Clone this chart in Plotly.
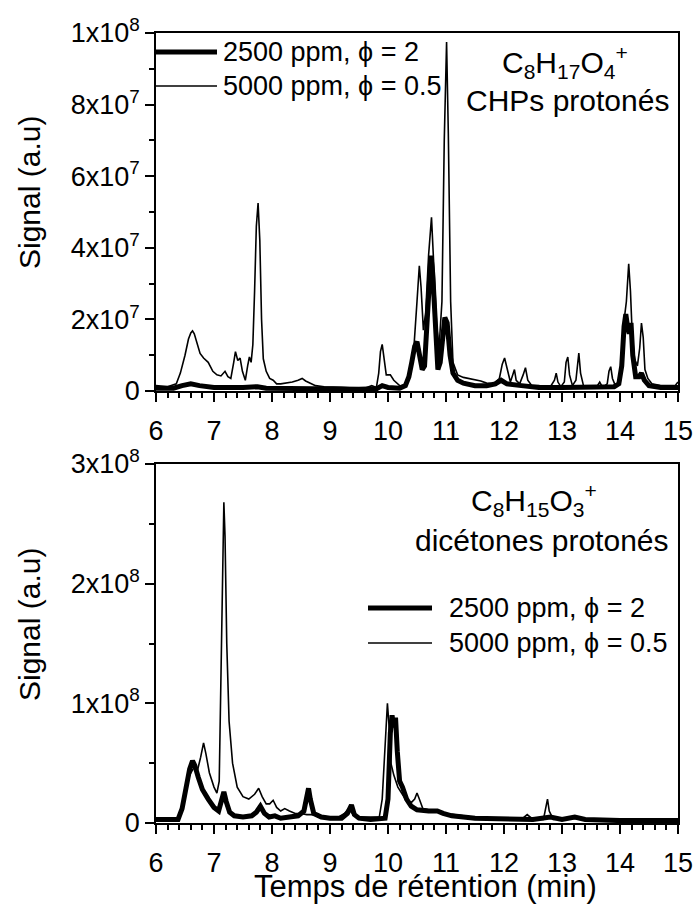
import numpy as np
import plotly.graph_objects as go

# top panel: C8H17O4+ (signal in units of 1e7)
top_t_rich = [6.0, 6.3, 6.45, 6.6, 6.75, 7.0, 7.5, 7.75, 7.9, 8.5, 9.0, 9.5, 9.8, 9.9, 10.0, 10.2,
              10.3, 10.36, 10.41, 10.46, 10.50, 10.54, 10.59, 10.63, 10.67, 10.71, 10.74, 10.77,
              10.81, 10.86, 10.90, 10.94, 10.98, 11.02, 11.07, 11.12, 11.2, 11.3, 11.5, 11.7,
              11.85, 11.95, 12.05, 12.3, 12.6, 13.0, 13.5, 13.9, 13.98, 14.03, 14.07, 14.10,
              14.13, 14.16, 14.19, 14.22, 14.27, 14.33, 14.37, 14.42, 14.5, 14.7, 15.0]
top_s_rich = [0.08, 0.08, 0.15, 0.2, 0.15, 0.1, 0.1, 0.12, 0.08, 0.06, 0.05, 0.05, 0.06, 0.15, 0.1, 0.08,
              0.15, 0.4, 0.8, 1.25, 1.38, 1.1, 0.6, 0.7, 2.0, 3.4, 3.78, 3.3,
              1.8, 0.6, 0.8, 1.6, 2.05, 1.9, 1.0, 0.5, 0.3, 0.22, 0.15, 0.15,
              0.2, 0.3, 0.2, 0.15, 0.1, 0.1, 0.1, 0.12, 0.2, 0.7, 1.8, 2.15,
              1.8, 1.6, 1.9, 1.0, 0.4, 0.4, 0.5, 0.3, 0.15, 0.1, 0.1]

top_t_lean = [6.0, 6.2, 6.35, 6.42, 6.5, 6.56, 6.6, 6.63, 6.66, 6.71, 6.76, 6.82, 6.9, 6.98, 7.05,
              7.12, 7.19, 7.24, 7.29, 7.34, 7.37, 7.41, 7.45, 7.49, 7.54, 7.58, 7.61, 7.64, 7.67,
              7.70, 7.73, 7.76, 7.79, 7.82, 7.85, 7.90, 7.96, 8.02, 8.08, 8.15, 8.25, 8.35, 8.45,
              8.52, 8.58, 8.65, 8.75, 8.9, 9.05, 9.2, 9.4, 9.6, 9.72, 9.80, 9.84, 9.87, 9.90,
              9.93, 9.97, 10.04, 10.10, 10.2, 10.3, 10.38, 10.45, 10.50, 10.54, 10.57, 10.61,
              10.65, 10.70, 10.75, 10.79, 10.84, 10.88, 10.93, 10.97, 11.01, 11.04, 11.08, 11.12,
              11.2, 11.3, 11.4, 11.5, 11.6, 11.7, 11.82, 11.92, 11.97, 12.01, 12.06, 12.11, 12.15,
              12.18, 12.21, 12.27, 12.33, 12.37, 12.41, 12.48, 12.6, 12.7, 12.8, 12.87, 12.90,
              12.93, 12.98, 13.04, 13.07, 13.10, 13.13, 13.18, 13.24, 13.27, 13.29, 13.32, 13.37,
              13.5, 13.6, 13.65, 13.7, 13.78, 13.81, 13.84, 13.87, 13.92, 14.0, 14.04, 14.08,
              14.11, 14.15, 14.18, 14.21, 14.25, 14.30, 14.34, 14.37, 14.40, 14.43, 14.48, 14.55,
              14.7, 14.85, 14.95, 15.0]
top_s_lean = [0.15, 0.12, 0.2, 0.5, 1.0, 1.45, 1.62, 1.68, 1.6, 1.3, 1.05, 0.92, 0.8, 0.55, 0.45,
              0.42, 0.55, 0.4, 0.35, 0.8, 1.1, 0.85, 0.92, 0.55, 0.3, 0.7, 0.95, 0.8, 1.3,
              2.8, 4.6, 5.25, 4.2, 2.0, 0.9, 0.55, 0.35, 0.3, 0.2, 0.2, 0.22, 0.25, 0.3,
              0.35, 0.28, 0.22, 0.15, 0.12, 0.1, 0.1, 0.08, 0.08, 0.15, 0.1, 0.5, 1.1, 1.3,
              0.9, 0.45, 0.45, 0.3, 0.15, 0.12, 0.4, 1.3, 2.5, 3.5, 2.9, 1.7,
              2.2, 3.8, 4.85, 3.6, 1.8, 1.2, 2.5, 7.0, 9.75, 7.2, 2.5, 0.8,
              0.45, 0.38, 0.35, 0.3, 0.28, 0.22, 0.2, 0.35, 0.75, 0.92, 0.55, 0.25, 0.45,
              0.6, 0.3, 0.2, 0.45, 0.65, 0.3, 0.15, 0.15, 0.12, 0.12, 0.3, 0.5,
              0.25, 0.12, 0.25, 0.8, 0.95, 0.45, 0.15, 0.3, 0.9, 1.06, 0.5, 0.15,
              0.12, 0.12, 0.25, 0.1, 0.2, 0.55, 0.68, 0.35, 0.15, 0.2, 0.8, 2.1,
              2.5, 3.55, 2.8, 1.6, 0.9, 0.7, 1.2, 1.9, 1.5, 0.6, 0.35, 0.2,
              0.15, 0.15, 0.15, 0.25]

# bottom panel: C8H15O3+ (signal in units of 1e8)
bot_t_rich = [6.0, 6.38, 6.45, 6.52, 6.58, 6.63, 6.67, 6.73, 6.8, 6.9, 7.0, 7.08, 7.13, 7.17, 7.21,
              7.27, 7.35, 7.5, 7.65, 7.73, 7.8, 7.87, 7.95, 8.05, 8.15, 8.3, 8.45, 8.55, 8.6, 8.63,
              8.66, 8.72, 8.85, 9.0, 9.2, 9.3, 9.37, 9.42, 9.5, 9.7, 9.95, 10.0, 10.04, 10.07,
              10.1, 10.13, 10.16, 10.2, 10.25, 10.32, 10.4, 10.5, 10.7, 10.85, 10.95, 11.1, 11.5,
              12.0, 12.5, 12.8, 13.0, 13.22, 13.4, 14.0, 15.0]
bot_s_rich = [0.03, 0.03, 0.12, 0.3, 0.45, 0.52, 0.48, 0.38, 0.28, 0.2, 0.13, 0.1, 0.2, 0.26, 0.18,
              0.09, 0.06, 0.05, 0.06, 0.09, 0.14, 0.08, 0.05, 0.06, 0.04, 0.05, 0.06, 0.1, 0.26, 0.29,
              0.2, 0.08, 0.05, 0.04, 0.04, 0.08, 0.15, 0.07, 0.04, 0.03, 0.04, 0.2, 0.75, 0.9,
              0.8, 0.88, 0.6, 0.35, 0.3, 0.2, 0.14, 0.11, 0.1, 0.1, 0.08, 0.06, 0.04,
              0.03, 0.03, 0.05, 0.03, 0.05, 0.03, 0.02, 0.02]

bot_t_lean = [6.0, 6.36, 6.42, 6.5, 6.58, 6.65, 6.72, 6.77, 6.82, 6.86, 6.92, 7.0, 7.05, 7.09, 7.12,
              7.15, 7.17, 7.19, 7.22, 7.26, 7.32, 7.4, 7.5, 7.6, 7.7, 7.77, 7.83, 7.9, 7.96, 8.02,
              8.08, 8.15, 8.22, 8.3, 8.4, 8.5, 8.6, 8.7, 8.8, 9.0, 9.15, 9.25, 9.32, 9.4, 9.5,
              9.7, 9.85, 9.9, 9.95, 9.99, 10.02, 10.05, 10.1, 10.17, 10.3, 10.4, 10.46, 10.5,
              10.54, 10.6, 10.8, 11.0, 11.3, 11.6, 12.0, 12.3, 12.4, 12.5, 12.68, 12.72, 12.75,
              12.78, 12.85, 13.2, 13.6, 14.0, 14.5, 15.0]
bot_s_lean = [0.03, 0.03, 0.1, 0.25, 0.4, 0.46, 0.45, 0.55, 0.67, 0.58, 0.42, 0.3, 0.25, 0.35, 1.2,
              2.4, 2.68, 2.4, 1.5, 0.85, 0.5, 0.3, 0.22, 0.2, 0.24, 0.29, 0.22, 0.16, 0.16, 0.19,
              0.13, 0.1, 0.12, 0.1, 0.08, 0.08, 0.07, 0.07, 0.06, 0.05, 0.05, 0.08, 0.12, 0.07, 0.05,
              0.05, 0.05, 0.2, 0.7, 1.0, 0.8, 0.5, 0.4, 0.3, 0.2, 0.17, 0.2, 0.25,
              0.2, 0.12, 0.1, 0.08, 0.06, 0.04, 0.03, 0.03, 0.07, 0.03, 0.03, 0.12, 0.2,
              0.1, 0.03, 0.04, 0.03, 0.03, 0.02, 0.02]

legend_names = ["2500 ppm, \u03d5 = 2", "5000 ppm, \u03d5 = 0.5"]
top_ticks = [0, 2e7, 4e7, 6e7, 8e7, 1e8]
top_ticktext = ["0", "2x10<sup>7</sup>", "4x10<sup>7</sup>", "6x10<sup>7</sup>",
                "8x10<sup>7</sup>", "1x10<sup>8</sup>"]
bot_ticks = [0, 1e8, 2e8, 3e8]
bot_ticktext = ["0", "1x10<sup>8</sup>", "2x10<sup>8</sup>", "3x10<sup>8</sup>"]

W, H = 694, 910
FONT = "Liberation Sans, Arial, sans-serif"
FS = 27
THICK, THIN = 5, 1.6


def px(x):
    return x / W


def py(y):
    return 1 - y / H


fig = go.Figure()
fig.add_trace(go.Scatter(x=top_t_lean, y=np.array(top_s_lean) * 1e7, mode="lines",
                         line=dict(color="black", width=THIN), xaxis="x", yaxis="y",
                         showlegend=False))
fig.add_trace(go.Scatter(x=top_t_rich, y=np.array(top_s_rich) * 1e7, mode="lines",
                         line=dict(color="black", width=THICK), xaxis="x", yaxis="y",
                         showlegend=False))
fig.add_trace(go.Scatter(x=bot_t_lean, y=np.array(bot_s_lean) * 1e8, mode="lines",
                         line=dict(color="black", width=THIN), xaxis="x2", yaxis="y2",
                         showlegend=False))
fig.add_trace(go.Scatter(x=bot_t_rich, y=np.array(bot_s_rich) * 1e8, mode="lines",
                         line=dict(color="black", width=THICK), xaxis="x2", yaxis="y2",
                         showlegend=False))

xdom = [px(156), px(678)]
xaxis_style = dict(range=[6, 15], domain=xdom, dtick=1, tick0=6, automargin=False,
                   showline=True, mirror=True, linecolor="black", linewidth=1.5,
                   ticks="outside", ticklen=9, tickwidth=1.5, tickcolor="black",
                   ticklabelstandoff=6,
                   minor=dict(dtick=0.2, ticks="outside", ticklen=5, tickwidth=1.5,
                              tickcolor="black"),
                   showgrid=False, zeroline=False,
                   tickfont=dict(family=FONT, size=FS, color="black"))
yaxis_style = dict(showline=True, mirror=True, linecolor="black", linewidth=1.5,
                   ticks="outside", ticklen=9, tickwidth=1.5, tickcolor="black",
                   showgrid=False, zeroline=False, automargin=False,
                   tickfont=dict(family=FONT, size=FS, color="black"))

fig.update_layout(
    width=W, height=H, margin=dict(l=0, r=0, t=0, b=0, pad=0, autoexpand=False),
    paper_bgcolor="white", plot_bgcolor="white", showlegend=False,
    font=dict(family=FONT, size=FS, color="black"),
    xaxis=dict(xaxis_style, anchor="y"),
    yaxis=dict(yaxis_style, domain=[py(391), py(33)], range=[0, 1e8], anchor="x",
               tickvals=top_ticks, ticktext=top_ticktext,
               minor=dict(dtick=1e7, ticks="outside", ticklen=5, tickwidth=1.5,
                          tickcolor="black")),
    xaxis2=dict(xaxis_style, anchor="y2"),
    yaxis2=dict(yaxis_style, domain=[py(823), py(464)], range=[0, 3e8], anchor="x2",
                tickvals=bot_ticks, ticktext=bot_ticktext,
                minor=dict(dtick=5e7, ticks="outside", ticklen=5, tickwidth=1.5,
                           tickcolor="black")),
)

# hand-made legends (long sample lines as in the original)
legend_pos = [
    (156, 217, 221, [52, 86]),
    (368, 432, 447, [608, 643]),
]
for x0, x1, xt, ys in legend_pos:
    for name, width, y in zip(legend_names, [THICK, THIN], ys):
        fig.add_shape(type="line", xref="paper", yref="paper",
                      x0=px(x0), x1=px(x1), y0=py(y), y1=py(y),
                      line=dict(color="black", width=width))
        fig.add_annotation(x=px(xt), y=py(y), xref="paper", yref="paper", text=name,
                           showarrow=False, xanchor="left", yanchor="middle",
                           font=dict(size=27))

labels = [
    ("C<sub>8</sub>H<sub>17</sub>O<sub>4</sub><sup>+</sup>", 565, 62),
    ("CHPs protonés", 567, 100),
    ("C<sub>8</sub>H<sub>15</sub>O<sub>3</sub><sup>+</sup>", 534, 500),
    ("dicétones protonés", 542, 540),
]
for text, x, y in labels:
    fig.add_annotation(x=px(x), y=py(y), xref="paper", yref="paper", text=text,
                       showarrow=False, xanchor="center", yanchor="middle",
                       font=dict(size=30))

for y in [193, 625]:
    fig.add_annotation(x=px(29), y=py(y), xref="paper", yref="paper", text="Signal (a.u)",
                       textangle=-90, showarrow=False, xanchor="center", yanchor="middle",
                       font=dict(size=30))
fig.add_annotation(x=px(425), y=py(886), xref="paper", yref="paper",
                   text="Temps de rétention (min)", showarrow=False,
                   xanchor="center", yanchor="middle", font=dict(size=31))

# the page body has an 8px default margin; drop it so the figure fills the window
fig.write_html("out.html", config={"displayModeBar": False},
               post_script="document.body.style.margin = '0';")
